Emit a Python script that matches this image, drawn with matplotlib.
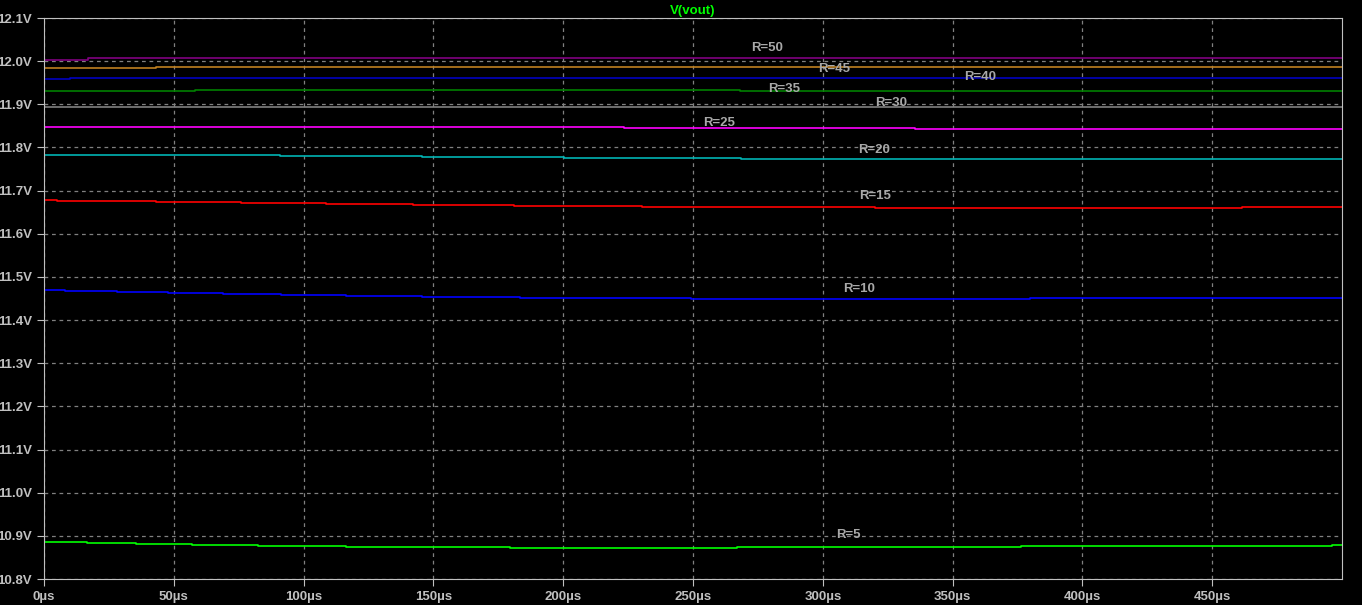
import numpy as np
import matplotlib.pyplot as plt
from matplotlib.patches import Rectangle
from matplotlib.ticker import FuncFormatter

# step-wise traces: times (us) where the level changes, and level (V)
t_r50 = [0, 16.9]
v_r50 = [12.0033, 12.0066]
t_r45 = [0, 43.1]
v_r45 = [11.9834, 11.9857]
t_r40 = [0, 10.0]
v_r40 = [11.958, 11.960]
t_r35 = [0, 58.2, 268.0]
v_r35 = [11.930, 11.932, 11.9305]
t_r30 = [0, 252.0]
v_r30 = [11.8945, 11.893]
t_r25 = [0, 132.5, 223.4, 335.5]
v_r25 = [11.848, 11.8465, 11.8444, 11.842]
t_r20 = [0, 90.9, 145.5, 200.2, 268.5]
v_r20 = [11.782, 11.7795, 11.7772, 11.775, 11.7726]
t_r15 = [0, 5.0, 43.1, 75.9, 108.5, 142.1, 181.0, 230.3, 320.3, 461.3]
v_r15 = [11.6775, 11.6752, 11.673, 11.6706, 11.6683, 11.666, 11.6636, 11.6613, 11.659, 11.6613]
t_r10 = [0, 8.2, 28.2, 47.8, 68.9, 91.2, 116.2, 145.6, 183.3, 249.3, 379.8]
v_r10 = [11.469, 11.4667, 11.4644, 11.462, 11.4597, 11.4574, 11.455, 11.4527, 11.4504, 11.448, 11.4504]
t_r5 = [0, 16.4, 35.4, 57.1, 82.5, 116.2, 179.5, 267.0, 376.2, 496.0]
v_r5 = [10.8864, 10.884, 10.8817, 10.8793, 10.877, 10.8747, 10.8724, 10.8747, 10.877, 10.878]

labels = ["R=50", "R=45", "R=40", "R=35", "R=30", "R=25", "R=20", "R=15", "R=10", "R=5"]
label_t = [278.5, 304.3, 360.5, 285.0, 326.3, 260.0, 319.7, 320.0, 314.0, 309.7]
label_v = [12.030, 11.981, 11.9626, 11.935, 11.903, 11.856, 11.7934, 11.688, 11.472, 10.901]

traces = [(t_r50, v_r50, "#800080"), (t_r45, v_r45, "#c08020"), (t_r40, v_r40, "#0000c0"),
          (t_r35, v_r35, "#008000"), (t_r30, v_r30, "#808080"), (t_r25, v_r25, "#ff00ff"),
          (t_r20, v_r20, "#00b4b4"), (t_r15, v_r15, "#ff0000"), (t_r10, v_r10, "#0000ff"),
          (t_r5, v_r5, "#00ff00")]

fig = plt.figure(figsize=(13.62, 6.16), dpi=100, facecolor="black")
fig.patches.append(Rectangle((0, 0), 1, 11 / 616, transform=fig.transFigure,
                             facecolor="white", edgecolor="none"))
ax = fig.add_axes([44 / 1362, 37 / 616, 1298 / 1362, 561 / 616])
ax.set_facecolor("black")

for t, v, c in traces:
    ax.step(t + [500], v + [v[-1]], where="post", color=c, lw=1.2)

for lab, x, y in zip(labels, label_t, label_v):
    ax.text(x, y, lab, color="#a8a8a8", ha="center", va="center",
            family="Liberation Sans", weight="bold", fontsize=9.5)

ax.set_xlim(0, 500)
ax.set_ylim(10.8, 12.1)
ax.set_xticks(np.arange(0, 500, 50))
ax.set_yticks(np.arange(10.8, 12.15, 0.1))
ax.xaxis.set_major_formatter(FuncFormatter(lambda x, p: f"{x:.0f}\u00b5s"))
ax.yaxis.set_major_formatter(FuncFormatter(lambda y, p: f"{y:.1f}V"))
ax.grid(True, color="#808080", ls=(0, (3, 3)), lw=0.9)
for s in ax.spines.values():
    s.set_color("#c0c0c0")
ax.tick_params(colors="#c0c0c0", length=5, labelsize=9.5)
for lbl in ax.get_xticklabels() + ax.get_yticklabels():
    lbl.set_family("Liberation Sans")
    lbl.set_weight("bold")

ax.set_title("V(vout)", color="#00ff00", family="Liberation Sans", weight="bold",
             fontsize=9.5, pad=3)

fig.savefig("out.png", dpi=100, facecolor=fig.get_facecolor())
